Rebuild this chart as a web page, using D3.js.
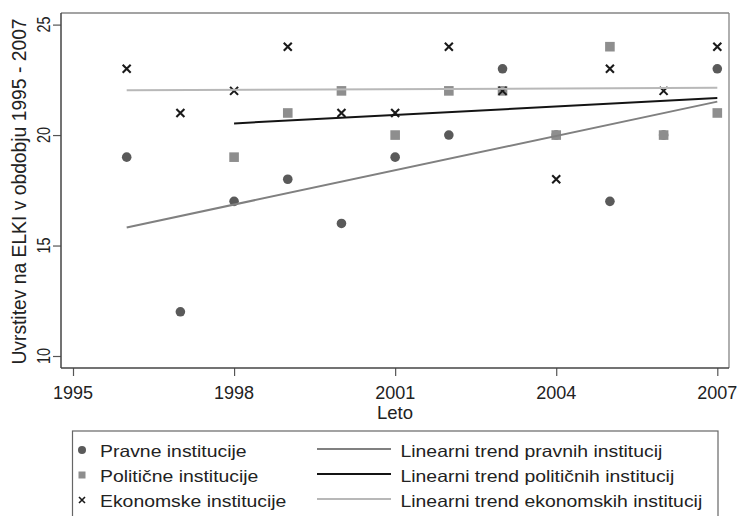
<!DOCTYPE html>
<html>
<head>
<meta charset="utf-8">
<script src="https://cdn.jsdelivr.net/npm/d3@7"></script>
<style>
  html, body { margin: 0; padding: 0; background: #fff; }
  svg { display: block; font-family: "Liberation Sans", Arial, Helvetica, sans-serif; }
</style>
</head>
<body>
<svg id="chart" width="737" height="516"></svg>
<script>
// ---- data ----
const pravneYears = [1996, 1997, 1998, 1999, 2000, 2001, 2002, 2003, 2004, 2005, 2006, 2007];
const pravneValues = [19, 12, 17, 18, 16, 19, 20, 23, 20, 17, 20, 23];
const politicneYears = [1998, 1999, 2000, 2001, 2002, 2003, 2004, 2005, 2006, 2007];
const politicneValues = [19, 21, 22, 20, 22, 22, 20, 24, 20, 21];
const ekonomskeYears = [1996, 1997, 1998, 1999, 2000, 2001, 2002, 2003, 2004, 2005, 2006, 2007];
const ekonomskeValues = [23, 21, 22, 24, 21, 21, 24, 22, 18, 23, 22, 24];
const xTicks = [1995, 1998, 2001, 2004, 2007];
const yTicks = [10, 15, 20, 25];
const legendLabels = ["Pravne institucije", "Politične institucije", "Ekonomske institucije"];
const trendLabels = ["Linearni trend pravnih institucij", "Linearni trend političnih institucij", "Linearni trend ekonomskih institucij"];
const xTitle = "Leto";
const yTitle = "Uvrstitev na ELKI v obdobju 1995 - 2007";

// ---- layout ----
const svg = d3.select("#chart");
const box = { left: 61, top: 13, right: 729, bottom: 368 };
const x = d3.scaleLinear().domain([1995, 2007]).range([73, 717.3]);
const y = d3.scaleLinear().domain([10, 25]).range([356, 24.6]);

const colCircle = "#5a5a5a", colSquare = "#8e8e8e", colX = "#1a1a1a";
const colTrend = ["#808080", "#141414", "#b8b8b8"];

function fit(xs, ys) {
  const mx = d3.mean(xs), my = d3.mean(ys);
  let sxy = 0, sxx = 0;
  xs.forEach((v, i) => { sxy += (v - mx) * (ys[i] - my); sxx += (v - mx) * (v - mx); });
  const b = sxy / sxx, a = my - b * mx;
  const x0 = d3.min(xs), x1 = d3.max(xs);
  return [[x0, a + b * x0], [x1, a + b * x1]];
}

// frame
svg.append("line").attr("x1", box.left).attr("x2", box.right).attr("y1", box.top).attr("y2", box.top)
  .attr("stroke", "#858585").attr("stroke-width", 1.3);
svg.append("line").attr("x1", box.right).attr("x2", box.right).attr("y1", box.top).attr("y2", box.bottom)
  .attr("stroke", "#858585").attr("stroke-width", 1.3);

// axes
const yAxis = d3.axisLeft(y).tickValues(yTicks).tickSize(8).tickFormat("");
const gy = svg.append("g").attr("transform", `translate(${box.left},0)`).call(yAxis);
gy.select(".domain").remove();
gy.selectAll(".tick line").attr("stroke", "#555").attr("stroke-width", 1.2);
svg.append("line").attr("x1", box.left).attr("x2", box.left).attr("y1", box.top).attr("y2", box.bottom)
  .attr("stroke", "#444").attr("stroke-width", 1.5);

const xAxis = d3.axisBottom(x).tickValues(xTicks).tickSize(8).tickFormat("");
const gx = svg.append("g").attr("transform", `translate(0,${box.bottom})`).call(xAxis);
gx.select(".domain").remove();
gx.selectAll(".tick line").attr("stroke", "#555").attr("stroke-width", 1.2);
svg.append("line").attr("x1", box.left).attr("x2", box.right).attr("y1", box.bottom).attr("y2", box.bottom)
  .attr("stroke", "#444").attr("stroke-width", 1.5);

// tick labels
svg.selectAll(".ylab").data(yTicks).enter().append("text")
  .attr("transform", d => `translate(50,${y(d)}) rotate(-90) scale(0.8,1)`)
  .attr("text-anchor", "middle").attr("font-size", 18).attr("fill", "#222")
  .text(d => d);
svg.selectAll(".xlab").data(xTicks).enter().append("text")
  .attr("x", d => x(d)).attr("y", 399)
  .attr("text-anchor", "middle").attr("font-size", 18).attr("fill", "#222")
  .text(d => d);

// titles
svg.append("text").attr("x", 395).attr("y", 419).attr("text-anchor", "middle")
  .attr("font-size", 18.5).attr("fill", "#222").text(xTitle);
svg.append("text").attr("transform", "translate(26,191.5) rotate(-90)").attr("text-anchor", "middle")
  .attr("font-size", 19.3).attr("fill", "#222").text(yTitle);

// markers
const crossPath = s => `M${-s},${-s}L${s},${s}M${-s},${s}L${s},${-s}`;
svg.append("g").selectAll("circle").data(pravneYears.map((d, i) => [d, pravneValues[i]])).enter()
  .append("circle").attr("cx", d => x(d[0])).attr("cy", d => y(d[1])).attr("r", 4.8).attr("fill", colCircle);
svg.append("g").selectAll("rect").data(politicneYears.map((d, i) => [d, politicneValues[i]])).enter()
  .append("rect").attr("x", d => x(d[0]) - 4.8).attr("y", d => y(d[1]) - 4.8)
  .attr("width", 9.6).attr("height", 9.6).attr("fill", colSquare);
svg.append("g").selectAll("path").data(ekonomskeYears.map((d, i) => [d, ekonomskeValues[i]])).enter()
  .append("path").attr("transform", d => `translate(${x(d[0])},${y(d[1])})`)
  .attr("d", crossPath(4)).attr("stroke", colX).attr("stroke-width", 2.1).attr("fill", "none");

// trend lines
const line = d3.line().x(d => x(d[0])).y(d => y(d[1]));
const trends = [fit(pravneYears, pravneValues), fit(politicneYears, politicneValues), fit(ekonomskeYears, ekonomskeValues)];
trends.forEach((t, i) => {
  svg.append("path").attr("d", line(t)).attr("stroke", colTrend[i]).attr("stroke-width", 2).attr("fill", "none");
});

// legend
svg.append("rect").attr("x", 72.5).attr("y", 431).attr("width", 645.5).attr("height", 100)
  .attr("fill", "none").attr("stroke", "#666").attr("stroke-width", 1.2);
const rowY = [450, 475, 500];
svg.append("circle").attr("cx", 82).attr("cy", rowY[0]).attr("r", 4).attr("fill", colCircle);
svg.append("rect").attr("x", 78.5).attr("y", rowY[1] - 3.5).attr("width", 7).attr("height", 7).attr("fill", colSquare);
svg.append("path").attr("transform", `translate(82,${rowY[2]})`).attr("d", crossPath(3))
  .attr("stroke", colX).attr("stroke-width", 1.6).attr("fill", "none");
legendLabels.forEach((t, i) => {
  svg.append("text").attr("transform", `translate(100,${rowY[i] + 6.5}) scale(1.175,1)`)
    .attr("font-size", 16.5).attr("fill", "#222").text(t);
});
trendLabels.forEach((t, i) => {
  svg.append("line").attr("x1", 317).attr("x2", 391).attr("y1", rowY[i] - 1).attr("y2", rowY[i] - 1)
    .attr("stroke", colTrend[i]).attr("stroke-width", 2);
  svg.append("text").attr("transform", `translate(400.5,${rowY[i] + 6.5}) scale(1.175,1)`)
    .attr("font-size", 16.5).attr("fill", "#222").text(t);
});
</script>
</body>
</html>
